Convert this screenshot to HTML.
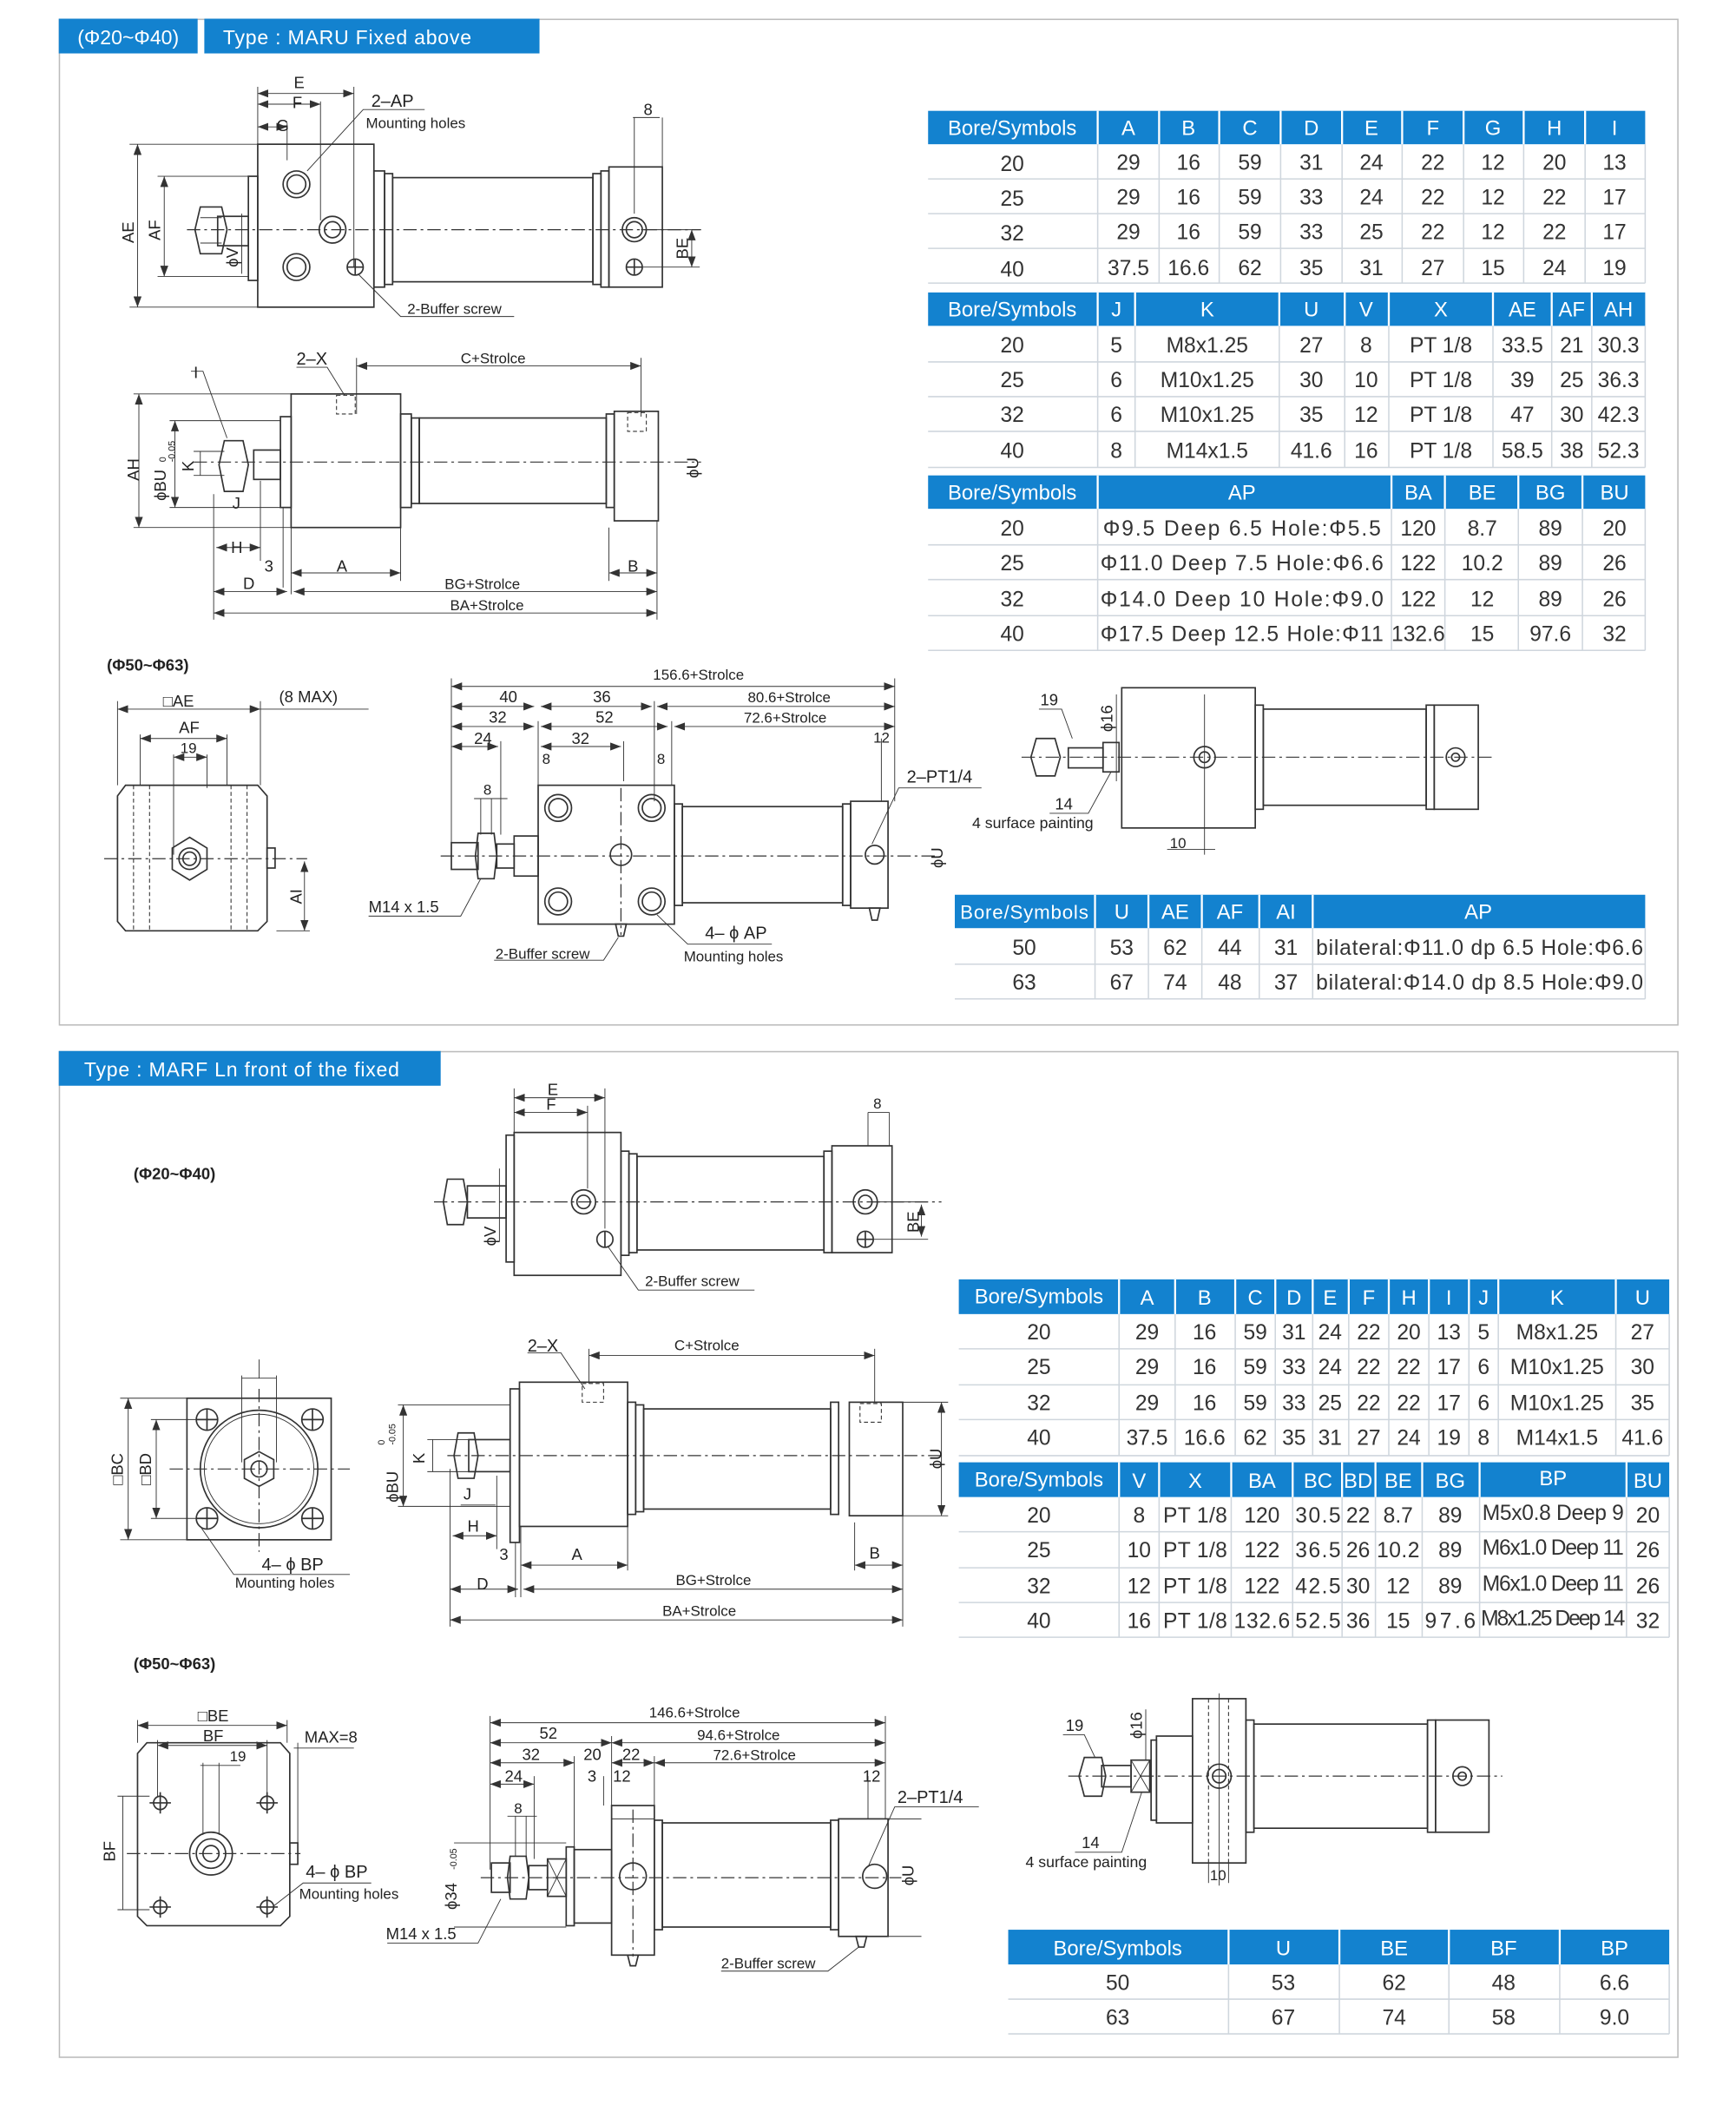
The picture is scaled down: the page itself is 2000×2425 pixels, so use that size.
<!DOCTYPE html>
<html><head><meta charset="utf-8"><style>
html,body{margin:0;padding:0;background:#fff;}
svg{display:block;}
text{font-family:"Liberation Sans",sans-serif;}
.d line,.d rect,.d circle,.d path,.d polyline,.d polygon{fill:none;stroke:#333;stroke-width:1.1;}
.d .th{stroke-width:0.6;}
.d .cl{stroke-dasharray:10 3 2 3;stroke-width:0.8;}
.d .dh{stroke-dasharray:3 2;stroke-width:0.7;}
.lb{font-size:12px;fill:#222;}
.ls{font-size:11px;fill:#222;}
.th1{font-size:15.5px;fill:#fff;}
.td{font-size:16px;fill:#333;}
</style></head><body>
<svg width="2000" height="2425" viewBox="0 0 1300 1576.25" xmlns="http://www.w3.org/2000/svg">
<defs>
<marker id="a" markerWidth="8" markerHeight="6" refX="8" refY="3" orient="auto-start-reverse" markerUnits="userSpaceOnUse"><path d="M0,0 L8,3 L0,6 z" fill="#333" stroke="none"/></marker>
</defs>
<rect width="1300" height="1577" fill="#fff"/>
<!-- frames -->
<rect x="44.5" y="14.5" width="1212" height="753" fill="none" stroke="#bbb" stroke-width="1"/>
<rect x="44.5" y="787.5" width="1212" height="753" fill="none" stroke="#bbb" stroke-width="1"/>
<rect x="44" y="14" width="104" height="26" fill="#1382cf"/>
<text x="96" y="33" text-anchor="middle" style="font-size:15px;fill:#fff">(Φ20~Φ40)</text>
<rect x="153" y="14" width="251" height="26" fill="#1382cf"/>
<text x="167" y="33" style="font-size:15px;fill:#fff;letter-spacing:0.5px">Type : MARU  Fixed above</text>
<rect x="44" y="787" width="286" height="26" fill="#1382cf"/>
<text x="63" y="806" style="font-size:15px;fill:#fff;letter-spacing:0.5px">Type : MARF Ln front of the fixed</text>

<!-- ===== TABLES ===== -->
<g id="tables">
<!-- T1 -->
<rect x="695" y="83" width="537" height="25" fill="#1382cf"/>
<g stroke="#cfd6dd" stroke-width="1">
<line x1="695" y1="134" x2="1232" y2="134"/><line x1="695" y1="160" x2="1232" y2="160"/><line x1="695" y1="186" x2="1232" y2="186"/><line x1="695" y1="212" x2="1232" y2="212"/>
<line x1="822" y1="108" x2="822" y2="212"/><line x1="868" y1="108" x2="868" y2="212"/><line x1="913" y1="108" x2="913" y2="212"/><line x1="959" y1="108" x2="959" y2="212"/><line x1="1005" y1="108" x2="1005" y2="212"/><line x1="1050" y1="108" x2="1050" y2="212"/><line x1="1096" y1="108" x2="1096" y2="212"/><line x1="1141" y1="108" x2="1141" y2="212"/><line x1="1187" y1="108" x2="1187" y2="212"/><line x1="1232" y1="108" x2="1232" y2="212"/>
</g>
<g stroke="#fff" stroke-width="1.5"><line x1="822" y1="83" x2="822" y2="108"/><line x1="868" y1="83" x2="868" y2="108"/><line x1="913" y1="83" x2="913" y2="108"/><line x1="959" y1="83" x2="959" y2="108"/><line x1="1005" y1="83" x2="1005" y2="108"/><line x1="1050" y1="83" x2="1050" y2="108"/><line x1="1096" y1="83" x2="1096" y2="108"/><line x1="1141" y1="83" x2="1141" y2="108"/><line x1="1187" y1="83" x2="1187" y2="108"/></g>
<g class="th1" text-anchor="middle"><text x="758" y="101">Bore/Symbols</text><text x="845" y="101">A</text><text x="890" y="101">B</text><text x="936" y="101">C</text><text x="982" y="101">D</text><text x="1027" y="101">E</text><text x="1073" y="101">F</text><text x="1118" y="101">G</text><text x="1164" y="101">H</text><text x="1209" y="101">I</text></g>
<g class="td" text-anchor="middle">
<text x="758" y="128">20</text><text x="845" y="127">29</text><text x="890" y="127">16</text><text x="936" y="127">59</text><text x="982" y="127">31</text><text x="1027" y="127">24</text><text x="1073" y="127">22</text><text x="1118" y="127">12</text><text x="1164" y="127">20</text><text x="1209" y="127">13</text>
<text x="758" y="154">25</text><text x="845" y="153">29</text><text x="890" y="153">16</text><text x="936" y="153">59</text><text x="982" y="153">33</text><text x="1027" y="153">24</text><text x="1073" y="153">22</text><text x="1118" y="153">12</text><text x="1164" y="153">22</text><text x="1209" y="153">17</text>
<text x="758" y="180">32</text><text x="845" y="179">29</text><text x="890" y="179">16</text><text x="936" y="179">59</text><text x="982" y="179">33</text><text x="1027" y="179">25</text><text x="1073" y="179">22</text><text x="1118" y="179">12</text><text x="1164" y="179">22</text><text x="1209" y="179">17</text>
<text x="758" y="207">40</text><text x="845" y="206">37.5</text><text x="890" y="206">16.6</text><text x="936" y="206">62</text><text x="982" y="206">35</text><text x="1027" y="206">31</text><text x="1073" y="206">27</text><text x="1118" y="206">15</text><text x="1164" y="206">24</text><text x="1209" y="206">19</text>
</g>
<!-- T2 -->
<rect x="695" y="219" width="537" height="25" fill="#1382cf"/>
<g stroke="#cfd6dd" stroke-width="1">
<line x1="695" y1="271" x2="1232" y2="271"/><line x1="695" y1="297" x2="1232" y2="297"/><line x1="695" y1="323" x2="1232" y2="323"/><line x1="695" y1="350" x2="1232" y2="350"/>
<line x1="822" y1="244" x2="822" y2="350"/><line x1="850" y1="244" x2="850" y2="350"/><line x1="958" y1="244" x2="958" y2="350"/><line x1="1007" y1="244" x2="1007" y2="350"/><line x1="1040" y1="244" x2="1040" y2="350"/><line x1="1118" y1="244" x2="1118" y2="350"/><line x1="1162" y1="244" x2="1162" y2="350"/><line x1="1192" y1="244" x2="1192" y2="350"/><line x1="1232" y1="244" x2="1232" y2="350"/>
</g>
<g stroke="#fff" stroke-width="1.5"><line x1="822" y1="219" x2="822" y2="244"/><line x1="850" y1="219" x2="850" y2="244"/><line x1="958" y1="219" x2="958" y2="244"/><line x1="1007" y1="219" x2="1007" y2="244"/><line x1="1040" y1="219" x2="1040" y2="244"/><line x1="1118" y1="219" x2="1118" y2="244"/><line x1="1162" y1="219" x2="1162" y2="244"/><line x1="1192" y1="219" x2="1192" y2="244"/></g>
<g class="th1" text-anchor="middle"><text x="758" y="237">Bore/Symbols</text><text x="836" y="237">J</text><text x="904" y="237">K</text><text x="982" y="237">U</text><text x="1023" y="237">V</text><text x="1079" y="237">X</text><text x="1140" y="237">AE</text><text x="1177" y="237">AF</text><text x="1212" y="237">AH</text></g>
<g class="td" text-anchor="middle">
<text x="758" y="264">20</text><text x="836" y="264">5</text><text x="904" y="264">M8x1.25</text><text x="982" y="264">27</text><text x="1023" y="264">8</text><text x="1079" y="264">PT 1/8</text><text x="1140" y="264">33.5</text><text x="1177" y="264">21</text><text x="1212" y="264">30.3</text>
<text x="758" y="290">25</text><text x="836" y="290">6</text><text x="904" y="290">M10x1.25</text><text x="982" y="290">30</text><text x="1023" y="290">10</text><text x="1079" y="290">PT 1/8</text><text x="1140" y="290">39</text><text x="1177" y="290">25</text><text x="1212" y="290">36.3</text>
<text x="758" y="316">32</text><text x="836" y="316">6</text><text x="904" y="316">M10x1.25</text><text x="982" y="316">35</text><text x="1023" y="316">12</text><text x="1079" y="316">PT 1/8</text><text x="1140" y="316">47</text><text x="1177" y="316">30</text><text x="1212" y="316">42.3</text>
<text x="758" y="343">40</text><text x="836" y="343">8</text><text x="904" y="343">M14x1.5</text><text x="982" y="343">41.6</text><text x="1023" y="343">16</text><text x="1079" y="343">PT 1/8</text><text x="1140" y="343">58.5</text><text x="1177" y="343">38</text><text x="1212" y="343">52.3</text>
</g>
<!-- T3 -->
<rect x="695" y="356" width="537" height="25" fill="#1382cf"/>
<g stroke="#cfd6dd" stroke-width="1">
<line x1="695" y1="408" x2="1232" y2="408"/><line x1="695" y1="434" x2="1232" y2="434"/><line x1="695" y1="461" x2="1232" y2="461"/><line x1="695" y1="487" x2="1232" y2="487"/>
<line x1="822" y1="381" x2="822" y2="487"/><line x1="1042" y1="381" x2="1042" y2="487"/><line x1="1082" y1="381" x2="1082" y2="487"/><line x1="1137" y1="381" x2="1137" y2="487"/><line x1="1185" y1="381" x2="1185" y2="487"/><line x1="1232" y1="381" x2="1232" y2="487"/>
</g>
<g stroke="#fff" stroke-width="1.5"><line x1="822" y1="356" x2="822" y2="381"/><line x1="1042" y1="356" x2="1042" y2="381"/><line x1="1082" y1="356" x2="1082" y2="381"/><line x1="1137" y1="356" x2="1137" y2="381"/><line x1="1185" y1="356" x2="1185" y2="381"/></g>
<g class="th1" text-anchor="middle"><text x="758" y="374">Bore/Symbols</text><text x="930" y="374">AP</text><text x="1062" y="374">BA</text><text x="1110" y="374">BE</text><text x="1161" y="374">BG</text><text x="1209" y="374">BU</text></g>
<g class="td" text-anchor="middle">
<text x="758" y="401">20</text><text x="930" y="401" textLength="208">Φ9.5 Deep 6.5 Hole:Φ5.5</text><text x="1062" y="401">120</text><text x="1110" y="401">8.7</text><text x="1161" y="401">89</text><text x="1209" y="401">20</text>
<text x="758" y="427">25</text><text x="930" y="427" textLength="212">Φ11.0 Deep 7.5 Hole:Φ6.6</text><text x="1062" y="427">122</text><text x="1110" y="427">10.2</text><text x="1161" y="427">89</text><text x="1209" y="427">26</text>
<text x="758" y="454">32</text><text x="930" y="454" textLength="212">Φ14.0 Deep 10 Hole:Φ9.0</text><text x="1062" y="454">122</text><text x="1110" y="454">12</text><text x="1161" y="454">89</text><text x="1209" y="454">26</text>
<text x="758" y="480">40</text><text x="930" y="480" textLength="212">Φ17.5 Deep 12.5 Hole:Φ11</text><text x="1062" y="480">132.6</text><text x="1110" y="480">15</text><text x="1161" y="480">97.6</text><text x="1209" y="480">32</text>
</g>
<!-- T4 -->
<rect x="715" y="670" width="517" height="25" fill="#1382cf"/>
<g stroke="#cfd6dd" stroke-width="1">
<line x1="715" y1="722" x2="1232" y2="722"/><line x1="715" y1="748" x2="1232" y2="748"/>
<line x1="820" y1="695" x2="820" y2="748"/><line x1="860" y1="695" x2="860" y2="748"/><line x1="900" y1="695" x2="900" y2="748"/><line x1="943" y1="695" x2="943" y2="748"/><line x1="983" y1="695" x2="983" y2="748"/><line x1="1232" y1="695" x2="1232" y2="748"/>
</g>
<g stroke="#fff" stroke-width="1.5"><line x1="820" y1="670" x2="820" y2="695"/><line x1="860" y1="670" x2="860" y2="695"/><line x1="900" y1="670" x2="900" y2="695"/><line x1="943" y1="670" x2="943" y2="695"/><line x1="983" y1="670" x2="983" y2="695"/></g>
<g class="th1" text-anchor="middle"><text x="767" y="688" textLength="96" style="font-size:14.5px">Bore/Symbols</text><text x="840" y="688">U</text><text x="880" y="688">AE</text><text x="921" y="688">AF</text><text x="963" y="688">AI</text><text x="1107" y="688">AP</text></g>
<g class="td" text-anchor="middle">
<text x="767" y="715">50</text><text x="840" y="715">53</text><text x="880" y="715">62</text><text x="921" y="715">44</text><text x="963" y="715">31</text><text x="1108" y="715" textLength="245">bilateral:Φ11.0 dp 6.5 Hole:Φ6.6</text>
<text x="767" y="741">63</text><text x="840" y="741">67</text><text x="880" y="741">74</text><text x="921" y="741">48</text><text x="963" y="741">37</text><text x="1108" y="741" textLength="245">bilateral:Φ14.0 dp 8.5 Hole:Φ9.0</text>
</g>
<!-- T5 -->
<rect x="718" y="958" width="532" height="26" fill="#1382cf"/>
<g stroke="#cfd6dd" stroke-width="1">
<line x1="718" y1="1010" x2="1250" y2="1010"/><line x1="718" y1="1037" x2="1250" y2="1037"/><line x1="718" y1="1063" x2="1250" y2="1063"/><line x1="718" y1="1090" x2="1250" y2="1090"/>
<line x1="838" y1="984" x2="838" y2="1090"/><line x1="880" y1="984" x2="880" y2="1090"/><line x1="925" y1="984" x2="925" y2="1090"/><line x1="955" y1="984" x2="955" y2="1090"/><line x1="983" y1="984" x2="983" y2="1090"/><line x1="1010" y1="984" x2="1010" y2="1090"/><line x1="1040" y1="984" x2="1040" y2="1090"/><line x1="1070" y1="984" x2="1070" y2="1090"/><line x1="1100" y1="984" x2="1100" y2="1090"/><line x1="1122" y1="984" x2="1122" y2="1090"/><line x1="1210" y1="984" x2="1210" y2="1090"/><line x1="1250" y1="984" x2="1250" y2="1090"/>
</g>
<g stroke="#fff" stroke-width="1.5"><line x1="838" y1="958" x2="838" y2="984"/><line x1="880" y1="958" x2="880" y2="984"/><line x1="925" y1="958" x2="925" y2="984"/><line x1="955" y1="958" x2="955" y2="984"/><line x1="983" y1="958" x2="983" y2="984"/><line x1="1010" y1="958" x2="1010" y2="984"/><line x1="1040" y1="958" x2="1040" y2="984"/><line x1="1070" y1="958" x2="1070" y2="984"/><line x1="1100" y1="958" x2="1100" y2="984"/><line x1="1122" y1="958" x2="1122" y2="984"/><line x1="1210" y1="958" x2="1210" y2="984"/></g>
<g class="th1" text-anchor="middle"><text x="778" y="976">Bore/Symbols</text><text x="859" y="977">A</text><text x="902" y="977">B</text><text x="940" y="977">C</text><text x="969" y="977">D</text><text x="996" y="977">E</text><text x="1025" y="977">F</text><text x="1055" y="977">H</text><text x="1085" y="977">I</text><text x="1111" y="977">J</text><text x="1166" y="977">K</text><text x="1230" y="977">U</text></g>
<g class="td" text-anchor="middle">
<text x="778" y="1003">20</text><text x="859" y="1003">29</text><text x="902" y="1003">16</text><text x="940" y="1003">59</text><text x="969" y="1003">31</text><text x="996" y="1003">24</text><text x="1025" y="1003">22</text><text x="1055" y="1003">20</text><text x="1085" y="1003">13</text><text x="1111" y="1003">5</text><text x="1166" y="1003">M8x1.25</text><text x="1230" y="1003">27</text>
<text x="778" y="1029">25</text><text x="859" y="1029">29</text><text x="902" y="1029">16</text><text x="940" y="1029">59</text><text x="969" y="1029">33</text><text x="996" y="1029">24</text><text x="1025" y="1029">22</text><text x="1055" y="1029">22</text><text x="1085" y="1029">17</text><text x="1111" y="1029">6</text><text x="1166" y="1029">M10x1.25</text><text x="1230" y="1029">30</text>
<text x="778" y="1056">32</text><text x="859" y="1056">29</text><text x="902" y="1056">16</text><text x="940" y="1056">59</text><text x="969" y="1056">33</text><text x="996" y="1056">25</text><text x="1025" y="1056">22</text><text x="1055" y="1056">22</text><text x="1085" y="1056">17</text><text x="1111" y="1056">6</text><text x="1166" y="1056">M10x1.25</text><text x="1230" y="1056">35</text>
<text x="778" y="1082">40</text><text x="859" y="1082">37.5</text><text x="902" y="1082">16.6</text><text x="940" y="1082">62</text><text x="969" y="1082">35</text><text x="996" y="1082">31</text><text x="1025" y="1082">27</text><text x="1055" y="1082">24</text><text x="1085" y="1082">19</text><text x="1111" y="1082">8</text><text x="1166" y="1082">M14x1.5</text><text x="1230" y="1082">41.6</text>
</g>
<!-- T6 -->
<rect x="718" y="1095" width="532" height="26" fill="#1382cf"/>
<g stroke="#cfd6dd" stroke-width="1">
<line x1="718" y1="1147" x2="1250" y2="1147"/><line x1="718" y1="1174" x2="1250" y2="1174"/><line x1="718" y1="1200" x2="1250" y2="1200"/><line x1="718" y1="1226" x2="1250" y2="1226"/>
<line x1="838" y1="1121" x2="838" y2="1226"/><line x1="868" y1="1121" x2="868" y2="1226"/><line x1="922" y1="1121" x2="922" y2="1226"/><line x1="968" y1="1121" x2="968" y2="1226"/><line x1="1005" y1="1121" x2="1005" y2="1226"/><line x1="1030" y1="1121" x2="1030" y2="1226"/><line x1="1065" y1="1121" x2="1065" y2="1226"/><line x1="1108" y1="1121" x2="1108" y2="1226"/><line x1="1218" y1="1121" x2="1218" y2="1226"/><line x1="1250" y1="1121" x2="1250" y2="1226"/>
</g>
<g stroke="#fff" stroke-width="1.5"><line x1="838" y1="1095" x2="838" y2="1121"/><line x1="868" y1="1095" x2="868" y2="1121"/><line x1="922" y1="1095" x2="922" y2="1121"/><line x1="968" y1="1095" x2="968" y2="1121"/><line x1="1005" y1="1095" x2="1005" y2="1121"/><line x1="1030" y1="1095" x2="1030" y2="1121"/><line x1="1065" y1="1095" x2="1065" y2="1121"/><line x1="1108" y1="1095" x2="1108" y2="1121"/><line x1="1218" y1="1095" x2="1218" y2="1121"/></g>
<g class="th1" text-anchor="middle"><text x="778" y="1113">Bore/Symbols</text><text x="853" y="1114">V</text><text x="895" y="1114">X</text><text x="945" y="1114">BA</text><text x="987" y="1114">BC</text><text x="1017" y="1114">BD</text><text x="1047" y="1114">BE</text><text x="1086" y="1114">BG</text><text x="1163" y="1112">BP</text><text x="1234" y="1114">BU</text></g>
<g class="td" text-anchor="middle">
<text x="778" y="1140">20</text><text x="853" y="1140">8</text><text x="895" y="1140" textLength="48">PT 1/8</text><text x="945" y="1140">120</text><text x="987" y="1140" textLength="34">30.5</text><text x="1017" y="1140">22</text><text x="1047" y="1140">8.7</text><text x="1086" y="1140">89</text><text x="1163" y="1138" textLength="106">M5x0.8 Deep 9</text><text x="1234" y="1140">20</text>
<text x="778" y="1166">25</text><text x="853" y="1166">10</text><text x="895" y="1166" textLength="48">PT 1/8</text><text x="945" y="1166">122</text><text x="987" y="1166" textLength="34">36.5</text><text x="1017" y="1166">26</text><text x="1047" y="1166" textLength="32">10.2</text><text x="1086" y="1166">89</text><text x="1163" y="1164" textLength="106">M6x1.0 Deep 11</text><text x="1234" y="1166">26</text>
<text x="778" y="1193">32</text><text x="853" y="1193">12</text><text x="895" y="1193" textLength="48">PT 1/8</text><text x="945" y="1193">122</text><text x="987" y="1193" textLength="34">42.5</text><text x="1017" y="1193">30</text><text x="1047" y="1193">12</text><text x="1086" y="1193">89</text><text x="1163" y="1191" textLength="106">M6x1.0 Deep 11</text><text x="1234" y="1193">26</text>
<text x="778" y="1219">40</text><text x="853" y="1219">16</text><text x="895" y="1219" textLength="48">PT 1/8</text><text x="945" y="1219" textLength="42">132.6</text><text x="987" y="1219" textLength="34">52.5</text><text x="1017" y="1219">36</text><text x="1047" y="1219">15</text><text x="1086" y="1219" textLength="38">97.6</text><text x="1163" y="1217" textLength="108">M8x1.25 Deep 14</text><text x="1234" y="1219">32</text>
</g>
<!-- T7 -->
<rect x="755" y="1445" width="495" height="26" fill="#1382cf"/>
<g stroke="#cfd6dd" stroke-width="1">
<line x1="755" y1="1497" x2="1250" y2="1497"/><line x1="755" y1="1523" x2="1250" y2="1523"/>
<line x1="920" y1="1471" x2="920" y2="1523"/><line x1="1003" y1="1471" x2="1003" y2="1523"/><line x1="1085" y1="1471" x2="1085" y2="1523"/><line x1="1168" y1="1471" x2="1168" y2="1523"/><line x1="1250" y1="1471" x2="1250" y2="1523"/>
</g>
<g stroke="#fff" stroke-width="1.5"><line x1="920" y1="1445" x2="920" y2="1471"/><line x1="1003" y1="1445" x2="1003" y2="1471"/><line x1="1085" y1="1445" x2="1085" y2="1471"/><line x1="1168" y1="1445" x2="1168" y2="1471"/></g>
<g class="th1" text-anchor="middle"><text x="837" y="1464">Bore/Symbols</text><text x="961" y="1464">U</text><text x="1044" y="1464">BE</text><text x="1126" y="1464">BF</text><text x="1209" y="1464">BP</text></g>
<g class="td" text-anchor="middle">
<text x="837" y="1490">50</text><text x="961" y="1490">53</text><text x="1044" y="1490">62</text><text x="1126" y="1490">48</text><text x="1209" y="1490">6.6</text>
<text x="837" y="1516">63</text><text x="961" y="1516">67</text><text x="1044" y="1516">74</text><text x="1126" y="1516">58</text><text x="1209" y="1516">9.0</text>
</g>
</g>

<!-- ===== DRAWINGS ===== -->
<g class="d">
<!-- A: top view MARU 20-40 -->
<rect x="193" y="108" width="87" height="122"/>
<rect x="186" y="132" width="7" height="78"/>
<rect x="163" y="162" width="23" height="22"/>
<polygon points="150,155 166,155 170,172 166,190 150,190 146,172"/>
<line x1="150" y1="163" x2="166" y2="163" class="th"/><line x1="150" y1="182" x2="166" y2="182" class="th"/>
<rect x="280" y="128" width="8" height="87"/><rect x="288" y="130" width="6" height="83"/>
<rect x="294" y="133" width="150" height="78"/>
<rect x="444" y="130" width="6" height="83"/><rect x="450" y="128" width="6" height="87"/>
<rect x="456" y="125" width="40" height="90"/>
<line x1="496" y1="88" x2="496" y2="125" class="th"/><line x1="475" y1="88" x2="475" y2="160" class="th"/>
<circle cx="222" cy="138" r="10"/><circle cx="222" cy="138" r="7"/>
<circle cx="222" cy="200" r="10"/><circle cx="222" cy="200" r="7"/>
<circle cx="249" cy="172" r="10"/><circle cx="249" cy="172" r="6"/>
<circle cx="266" cy="200" r="6"/><line x1="260" y1="200" x2="272" y2="200"/><line x1="266" y1="194" x2="266" y2="206"/>
<circle cx="475" cy="172" r="9"/><circle cx="475" cy="172" r="6"/>
<circle cx="475" cy="200" r="6"/><line x1="469" y1="200" x2="481" y2="200"/><line x1="475" y1="194" x2="475" y2="206"/>
<line x1="140" y1="172" x2="525" y2="172" class="cl"/>
<line x1="193" y1="65" x2="193" y2="108" class="th"/><line x1="265" y1="65" x2="265" y2="200" class="th"/><line x1="240" y1="76" x2="240" y2="165" class="th"/><line x1="215" y1="92" x2="215" y2="120" class="th"/>
<line x1="193" y1="70" x2="265" y2="70" class="th" marker-start="url(#a)" marker-end="url(#a)"/>
<line x1="193" y1="78" x2="240" y2="78" class="th" marker-start="url(#a)" marker-end="url(#a)"/>
<line x1="193" y1="95" x2="215" y2="95" class="th" marker-start="url(#a)" marker-end="url(#a)"/>
<line x1="97" y1="108" x2="193" y2="108" class="th"/><line x1="97" y1="230" x2="193" y2="230" class="th"/>
<line x1="103" y1="108" x2="103" y2="230" class="th" marker-start="url(#a)" marker-end="url(#a)"/>
<line x1="118" y1="132" x2="186" y2="132" class="th"/><line x1="118" y1="207" x2="186" y2="207" class="th"/>
<line x1="123" y1="132" x2="123" y2="207" class="th" marker-start="url(#a)" marker-end="url(#a)"/>
<line x1="181" y1="160" x2="181" y2="205" class="th"/>
<line x1="480" y1="172" x2="524" y2="172" class="th"/><line x1="480" y1="200" x2="524" y2="200" class="th"/>
<line x1="518" y1="172" x2="518" y2="200" class="th" marker-start="url(#a)" marker-end="url(#a)"/>
<line x1="474" y1="88" x2="494" y2="88" class="th"/>
<polyline points="230,128 272,82 318,82" class="th"/>
<polyline points="268,205 300,237 385,237" class="th"/>
</g>
<g class="lb">
<text x="220" y="66">E</text><text x="219" y="81">F</text><text x="207" y="98">G</text>
<text x="278" y="80" style="font-size:13px">2–AP</text><text x="274" y="96" class="ls">Mounting holes</text>
<text x="482" y="86">8</text>
<text x="305" y="235" class="ls">2-Buffer screw</text>
<text transform="translate(100,182) rotate(-90)">AE</text>
<text transform="translate(120,180) rotate(-90)">AF</text>
<text transform="translate(178,200) rotate(-90)">ϕV</text>
<text transform="translate(515,194) rotate(-90)">BE</text>
</g>

<!-- B: side view MARU 20-40 -->
<g class="d">
<rect x="218" y="295" width="82" height="100"/>
<rect x="210" y="312" width="8" height="68"/>
<rect x="190" y="337" width="20" height="22"/>
<polygon points="168,330 182,330 186,348 182,368 168,368 164,348"/>
<rect x="300" y="310" width="8" height="70"/><rect x="308" y="313" width="6" height="64"/>
<rect x="314" y="313" width="140" height="64"/>
<rect x="454" y="310" width="6" height="70"/>
<rect x="460" y="308" width="33" height="82"/>
<rect x="252" y="296" width="14" height="14" class="dh"/><rect x="470" y="309" width="14" height="14" class="dh"/>
<line x1="145" y1="346" x2="525" y2="346" class="cl"/>
<line x1="267" y1="268" x2="267" y2="310" class="th"/><line x1="480" y1="268" x2="480" y2="312" class="th"/>
<line x1="267" y1="274" x2="480" y2="274" class="th" marker-start="url(#a)" marker-end="url(#a)"/>
<polyline points="222,275 245,275 258,296" class="th"/>
<line x1="100" y1="295" x2="218" y2="295" class="th"/><line x1="100" y1="395" x2="218" y2="395" class="th"/>
<line x1="104" y1="295" x2="104" y2="395" class="th" marker-start="url(#a)" marker-end="url(#a)"/>
<line x1="127" y1="315" x2="210" y2="315" class="th"/><line x1="127" y1="380" x2="210" y2="380" class="th"/>
<line x1="131" y1="315" x2="131" y2="380" class="th" marker-start="url(#a)" marker-end="url(#a)"/>
<line x1="145" y1="338" x2="168" y2="338" class="th"/><line x1="145" y1="356" x2="168" y2="356" class="th"/>
<line x1="150" y1="338" x2="150" y2="356" class="th"/>
<polyline points="143,278 152,278 170,328" class="th"/>
<line x1="160" y1="370" x2="160" y2="464" class="th"/><line x1="195" y1="360" x2="195" y2="420" class="th"/><line x1="212" y1="380" x2="212" y2="440" class="th"/><line x1="218" y1="395" x2="218" y2="445" class="th"/>
<line x1="300" y1="395" x2="300" y2="435" class="th"/><line x1="456" y1="395" x2="456" y2="435" class="th"/><line x1="492" y1="390" x2="492" y2="464" class="th"/>
<line x1="162" y1="410" x2="195" y2="410" class="th" marker-start="url(#a)" marker-end="url(#a)"/>
<line x1="218" y1="429" x2="300" y2="429" class="th" marker-start="url(#a)" marker-end="url(#a)"/>
<line x1="456" y1="429" x2="492" y2="429" class="th" marker-start="url(#a)" marker-end="url(#a)"/>
<line x1="160" y1="443" x2="215" y2="443" class="th" marker-start="url(#a)" marker-end="url(#a)"/>
<line x1="220" y1="443" x2="492" y2="443" class="th" marker-start="url(#a)" marker-end="url(#a)"/>
<line x1="160" y1="459" x2="492" y2="459" class="th" marker-start="url(#a)" marker-end="url(#a)"/>
</g>
<g class="lb">
<text x="222" y="273" style="font-size:13px">2–X</text><text x="345" y="272" class="ls">C+Strolce</text>
<text x="145" y="283">I</text>
<text x="173" y="414">H</text><text x="198" y="428">3</text><text x="252" y="428">A</text><text x="470" y="428">B</text>
<text x="182" y="441">D</text><text x="333" y="441" class="ls">BG+Strolce</text><text x="337" y="457" class="ls">BA+Strolce</text>
<text x="174" y="381">J</text>
<text transform="translate(104,360) rotate(-90)">AH</text>
<text transform="translate(124,375) rotate(-90)">ϕBU</text>
<text transform="translate(124,346) rotate(-90)" style="font-size:7px">0</text>
<text transform="translate(131,346) rotate(-90)" style="font-size:7px">-0.05</text>
<text transform="translate(145,353) rotate(-90)">K</text>
<text transform="translate(523,358) rotate(-90)">ϕU</text>
</g>

<!-- C: end view 50-63 -->
<text x="80" y="502" style="font-size:12px;font-weight:bold;fill:#222">(Φ50~Φ63)</text>
<g class="d">
<path d="M94,588 L193,588 L200,596 L200,690 L193,697 L94,697 L88,690 L88,596 Z"/>
<line x1="100" y1="588" x2="100" y2="697" class="dh"/><line x1="112" y1="588" x2="112" y2="697" class="dh"/>
<line x1="173" y1="588" x2="173" y2="697" class="dh"/><line x1="185" y1="588" x2="185" y2="697" class="dh"/>
<polygon points="142,627 155,635 155,651 142,659 129,651 129,635"/><circle cx="142" cy="643" r="8"/><circle cx="142" cy="643" r="5"/>
<rect x="200" y="635" width="6" height="15"/>
<line x1="78" y1="643" x2="230" y2="643" class="cl"/>
<line x1="88" y1="525" x2="88" y2="588" class="th"/><line x1="195" y1="525" x2="195" y2="588" class="th"/>
<line x1="88" y1="531" x2="195" y2="531" class="th" marker-start="url(#a)" marker-end="url(#a)"/>
<line x1="195" y1="531" x2="276" y2="531" class="th"/>
<line x1="105" y1="550" x2="105" y2="588" class="th"/><line x1="170" y1="550" x2="170" y2="588" class="th"/>
<line x1="105" y1="553" x2="170" y2="553" class="th" marker-start="url(#a)" marker-end="url(#a)"/>
<line x1="130" y1="565" x2="130" y2="640" class="th"/><line x1="155" y1="565" x2="155" y2="590" class="th"/>
<line x1="130" y1="567" x2="155" y2="567" class="th" marker-start="url(#a)" marker-end="url(#a)"/>
<line x1="207" y1="697" x2="232" y2="697" class="th"/><line x1="228" y1="645" x2="228" y2="697" class="th" marker-start="url(#a)" marker-end="url(#a)"/>
</g>
<g class="lb"><text x="122" y="529">□AE</text><text x="209" y="526">(8 MAX)</text><text x="134" y="549">AF</text><text x="135" y="564" class="ls">19</text>
<text transform="translate(226,677) rotate(-90)">AI</text></g>

<!-- D: side 50-63 -->
<g class="d">
<rect x="403" y="588" width="102" height="104"/>
<circle cx="418" cy="605" r="10"/><circle cx="418" cy="605" r="7"/>
<circle cx="488" cy="605" r="10"/><circle cx="488" cy="605" r="7"/>
<circle cx="418" cy="675" r="10"/><circle cx="418" cy="675" r="7"/>
<circle cx="488" cy="675" r="10"/><circle cx="488" cy="675" r="7"/>
<circle cx="465" cy="640" r="8"/>
<line x1="465" y1="590" x2="465" y2="700" class="cl"/>
<rect x="505" y="602" width="6" height="76"/><rect x="511" y="604" width="120" height="72"/>
<rect x="631" y="602" width="6" height="76"/>
<rect x="637" y="600" width="28" height="80"/>
<circle cx="655" cy="640" r="7"/>
<rect x="385" y="626" width="18" height="30"/>
<rect x="338" y="631" width="20" height="20"/>
<polygon points="358,624 370,624 372,641 370,658 358,658 356,641"/>
<rect x="372" y="632" width="13" height="18"/>
<path d="M461,692 L469,692 L467,701 L463,701 Z"/><path d="M651,680 L659,680 L657,689 L653,689 Z"/>
<line x1="330" y1="641" x2="700" y2="641" class="cl"/>
<line x1="338" y1="508" x2="338" y2="640" class="th"/><line x1="670" y1="508" x2="670" y2="600" class="th"/>
<line x1="403" y1="540" x2="403" y2="588" class="th"/><line x1="490" y1="525" x2="490" y2="600" class="th"/><line x1="503" y1="540" x2="503" y2="588" class="th"/><line x1="375" y1="555" x2="375" y2="625" class="th"/><line x1="467" y1="555" x2="467" y2="585" class="th"/><line x1="660" y1="553" x2="660" y2="600" class="th"/>
<line x1="338" y1="514" x2="670" y2="514" class="th" marker-start="url(#a)" marker-end="url(#a)"/>
<line x1="338" y1="529" x2="400" y2="529" class="th" marker-start="url(#a)" marker-end="url(#a)"/>
<line x1="405" y1="529" x2="488" y2="529" class="th" marker-start="url(#a)" marker-end="url(#a)"/>
<line x1="492" y1="529" x2="670" y2="529" class="th" marker-start="url(#a)" marker-end="url(#a)"/>
<line x1="338" y1="544" x2="400" y2="544" class="th" marker-start="url(#a)" marker-end="url(#a)"/>
<line x1="405" y1="544" x2="500" y2="544" class="th" marker-start="url(#a)" marker-end="url(#a)"/>
<line x1="505" y1="544" x2="670" y2="544" class="th" marker-start="url(#a)" marker-end="url(#a)"/>
<line x1="338" y1="559" x2="373" y2="559" class="th" marker-start="url(#a)" marker-end="url(#a)"/>
<line x1="405" y1="559" x2="465" y2="559" class="th" marker-start="url(#a)" marker-end="url(#a)"/>
<line x1="355" y1="598" x2="380" y2="598" class="th"/><line x1="360" y1="598" x2="360" y2="625" class="th"/><line x1="368" y1="598" x2="368" y2="625" class="th"/>
<polyline points="276,686 345,686 360,658" class="th"/>
<polyline points="370,719 452,719 463,702" class="th"/>
<polyline points="492,685 515,707 578,707" class="th"/>
<polyline points="653,632 673,590 735,590" class="th"/>
</g>
<g class="lb">
<text x="489" y="509" class="ls">156.6+Strolce</text>
<text x="374" y="526">40</text><text x="444" y="526">36</text><text x="560" y="526" class="ls">80.6+Strolce</text>
<text x="366" y="541">32</text><text x="446" y="541">52</text><text x="557" y="541" class="ls">72.6+Strolce</text>
<text x="355" y="557">24</text><text x="428" y="557">32</text>
<text x="406" y="572" class="ls">8</text><text x="492" y="572" class="ls">8</text><text x="654" y="556" class="ls">12</text>
<text x="362" y="595" class="ls">8</text>
<text x="276" y="683">M14 x 1.5</text>
<text x="371" y="718" class="ls">2-Buffer screw</text>
<text x="528" y="703" style="font-size:13px">4– ϕ AP</text><text x="512" y="720" class="ls">Mounting holes</text>
<text x="679" y="586" style="font-size:13px">2–PT1/4</text>
<text transform="translate(706,650) rotate(-90)">ϕU</text>
</g>

<!-- E: small right view 50-63 -->
<g class="d">
<rect x="840" y="515" width="100" height="105"/>
<rect x="940" y="528" width="6" height="78"/><rect x="946" y="531" width="122" height="72"/>
<rect x="1068" y="528" width="6" height="78"/>
<rect x="1074" y="528" width="33" height="78"/>
<circle cx="902" cy="567" r="8"/><circle cx="902" cy="567" r="4"/>
<circle cx="1090" cy="567" r="7"/><circle cx="1090" cy="567" r="3"/>
<rect x="826" y="556" width="12" height="22"/>
<rect x="800" y="560" width="26" height="15"/>
<polygon points="776,553 790,553 794,567 790,581 776,581 772,567"/>
<line x1="765" y1="567" x2="1118" y2="567" class="cl"/>
<line x1="902" y1="520" x2="902" y2="640" class="th"/>
<line x1="836" y1="520" x2="836" y2="585" class="th"/>
<polyline points="778,531 795,531 803,553" class="th"/>
<polyline points="786,609 815,609 832,578" class="th"/>
<line x1="874" y1="636" x2="910" y2="636" class="th"/>
</g>
<g class="lb"><text x="779" y="528">19</text><text x="790" y="606">14</text>
<text x="728" y="620" style="font-size:11.5px">4 surface painting</text><text x="876" y="635" class="ls">10</text>
<text transform="translate(833,548) rotate(-90)">ϕ16</text></g>

<!-- ===== BOTTOM SECTION ===== -->
<text x="100" y="883" style="font-size:12px;font-weight:bold;fill:#222">(Φ20~Φ40)</text>
<!-- F: top view MARF -->
<g class="d">
<rect x="379" y="850" width="6" height="95"/>
<rect x="385" y="848" width="80" height="107"/>
<rect x="465" y="862" width="6" height="78"/><rect x="471" y="864" width="6" height="74"/>
<rect x="477" y="866" width="140" height="70"/>
<rect x="617" y="862" width="6" height="76"/>
<rect x="623" y="858" width="45" height="80"/>
<rect x="350" y="888" width="29" height="24"/>
<polygon points="335,883 347,883 350,900 347,917 335,917 332,900"/>
<circle cx="437" cy="900" r="9"/><circle cx="437" cy="900" r="5"/>
<circle cx="453" cy="928" r="6"/><line x1="453" y1="922" x2="453" y2="934"/>
<circle cx="648" cy="900" r="9"/><circle cx="648" cy="900" r="5"/>
<circle cx="648" cy="928" r="6"/><line x1="642" y1="928" x2="654" y2="928"/><line x1="648" y1="922" x2="648" y2="934"/>
<line x1="325" y1="900" x2="705" y2="900" class="cl"/>
<line x1="385" y1="815" x2="385" y2="848" class="th"/><line x1="453" y1="815" x2="453" y2="920" class="th"/><line x1="440" y1="828" x2="440" y2="890" class="th"/>
<line x1="385" y1="822" x2="453" y2="822" class="th" marker-start="url(#a)" marker-end="url(#a)"/>
<line x1="385" y1="833" x2="440" y2="833" class="th" marker-start="url(#a)" marker-end="url(#a)"/>
<line x1="650" y1="833" x2="650" y2="858" class="th"/><line x1="666" y1="833" x2="666" y2="858" class="th"/><line x1="650" y1="833" x2="666" y2="833" class="th"/>
<line x1="653" y1="900" x2="695" y2="900" class="th"/><line x1="653" y1="928" x2="695" y2="928" class="th"/>
<line x1="690" y1="902" x2="690" y2="926" class="th" marker-start="url(#a)" marker-end="url(#a)"/>
<line x1="374" y1="875" x2="374" y2="930" class="th"/>
<polyline points="455,933 478,966 565,966" class="th"/>
</g>
<g class="lb"><text x="410" y="820">E</text><text x="409" y="831">F</text><text x="654" y="830" class="ls">8</text>
<text x="483" y="963" class="ls">2-Buffer screw</text>
<text transform="translate(371,933) rotate(-90)">ϕV</text><text transform="translate(688,923) rotate(-90)">BE</text></g>

<!-- G: flange front -->
<g class="d">
<rect x="140" y="1047" width="108" height="106"/>
<circle cx="194" cy="1100" r="44"/><circle cx="194" cy="1100" r="41" class="th"/>
<circle cx="155" cy="1063" r="8"/><line x1="147" y1="1063" x2="163" y2="1063"/><line x1="155" y1="1055" x2="155" y2="1071"/>
<circle cx="234" cy="1063" r="8"/><line x1="226" y1="1063" x2="242" y2="1063"/><line x1="234" y1="1055" x2="234" y2="1071"/>
<circle cx="155" cy="1137" r="8"/><line x1="147" y1="1137" x2="163" y2="1137"/><line x1="155" y1="1129" x2="155" y2="1145"/>
<circle cx="234" cy="1137" r="8"/><line x1="226" y1="1137" x2="242" y2="1137"/><line x1="234" y1="1129" x2="234" y2="1145"/>
<polygon points="194,1087 205,1093 205,1107 194,1113 183,1107 183,1093"/><circle cx="194" cy="1100" r="6"/>
<line x1="127" y1="1100" x2="262" y2="1100" class="cl"/><line x1="194" y1="1040" x2="194" y2="1162" class="cl"/>
<line x1="181" y1="1030" x2="181" y2="1095" class="th"/><line x1="207" y1="1030" x2="207" y2="1095" class="th"/><line x1="181" y1="1032" x2="207" y2="1032" class="th"/><line x1="194" y1="1018" x2="194" y2="1032" class="th"/>
<line x1="90" y1="1047" x2="140" y2="1047" class="th"/><line x1="90" y1="1153" x2="140" y2="1153" class="th"/>
<line x1="96" y1="1047" x2="96" y2="1153" class="th" marker-start="url(#a)" marker-end="url(#a)"/>
<line x1="113" y1="1063" x2="147" y2="1063" class="th"/><line x1="113" y1="1137" x2="147" y2="1137" class="th"/>
<line x1="117" y1="1063" x2="117" y2="1137" class="th" marker-start="url(#a)" marker-end="url(#a)"/>
<polyline points="150,1143 175,1179 262,1179" class="th"/>
</g>
<g class="lb"><text x="196" y="1176" style="font-size:13px">4– ϕ BP</text><text x="176" y="1189" class="ls">Mounting holes</text>
<text transform="translate(92,1112) rotate(-90)">□BC</text><text transform="translate(113,1112) rotate(-90)">□BD</text></g>

<!-- H: side MARF -->
<g class="d">
<rect x="382" y="1040" width="7" height="115"/>
<rect x="389" y="1035" width="81" height="108"/>
<rect x="470" y="1050" width="6" height="84"/><rect x="476" y="1052" width="6" height="80"/>
<rect x="482" y="1055" width="140" height="75"/>
<rect x="622" y="1050" width="6" height="84"/>
<rect x="636" y="1050" width="40" height="85"/>
<rect x="351" y="1078" width="31" height="24"/>
<polygon points="343,1073 355,1073 358,1090 355,1107 343,1107 340,1090"/>
<rect x="436" y="1036" width="16" height="14" class="dh"/><rect x="644" y="1051" width="16" height="14" class="dh"/>
<line x1="335" y1="1090" x2="708" y2="1090" class="cl"/>
<line x1="441" y1="1010" x2="441" y2="1036" class="th"/><line x1="655" y1="1010" x2="655" y2="1050" class="th"/>
<line x1="441" y1="1015" x2="655" y2="1015" class="th" marker-start="url(#a)" marker-end="url(#a)"/>
<polyline points="395,1013 420,1013 438,1040" class="th"/>
<line x1="298" y1="1052" x2="382" y2="1052" class="th"/><line x1="298" y1="1128" x2="382" y2="1128" class="th"/>
<line x1="302" y1="1052" x2="302" y2="1128" class="th" marker-start="url(#a)" marker-end="url(#a)"/>
<line x1="320" y1="1078" x2="351" y2="1078" class="th"/><line x1="320" y1="1102" x2="351" y2="1102" class="th"/>
<line x1="324" y1="1078" x2="324" y2="1102" class="th"/>
<line x1="676" y1="1050" x2="710" y2="1050" class="th"/><line x1="676" y1="1135" x2="710" y2="1135" class="th"/>
<line x1="705" y1="1050" x2="705" y2="1135" class="th" marker-start="url(#a)" marker-end="url(#a)"/>
<line x1="337" y1="1100" x2="337" y2="1218" class="th"/><line x1="372" y1="1105" x2="372" y2="1160" class="th"/><line x1="386" y1="1155" x2="386" y2="1196" class="th"/><line x1="390" y1="1143" x2="390" y2="1196" class="th"/>
<line x1="470" y1="1143" x2="470" y2="1176" class="th"/><line x1="640" y1="1140" x2="640" y2="1176" class="th"/><line x1="676" y1="1135" x2="676" y2="1218" class="th"/>
<line x1="339" y1="1150" x2="372" y2="1150" class="th" marker-start="url(#a)" marker-end="url(#a)"/>
<line x1="390" y1="1172" x2="470" y2="1172" class="th" marker-start="url(#a)" marker-end="url(#a)"/>
<line x1="640" y1="1172" x2="676" y2="1172" class="th" marker-start="url(#a)" marker-end="url(#a)"/>
<line x1="337" y1="1190" x2="388" y2="1190" class="th" marker-start="url(#a)" marker-end="url(#a)"/>
<line x1="392" y1="1190" x2="676" y2="1190" class="th" marker-start="url(#a)" marker-end="url(#a)"/>
<line x1="337" y1="1213" x2="676" y2="1213" class="th" marker-start="url(#a)" marker-end="url(#a)"/>
<line x1="345" y1="1127" x2="371" y2="1127" class="th"/>
</g>
<g class="lb"><text x="395" y="1012" style="font-size:13px">2–X</text><text x="505" y="1011" class="ls">C+Strolce</text>
<text x="350" y="1147">H</text><text x="347" y="1123">J</text><text x="374" y="1168">3</text><text x="428" y="1168">A</text><text x="651" y="1167">B</text>
<text x="357" y="1190">D</text><text x="506" y="1187" class="ls">BG+Strolce</text><text x="496" y="1210" class="ls">BA+Strolce</text>
<text transform="translate(298,1125) rotate(-90)">ϕBU</text>
<text transform="translate(288,1082) rotate(-90)" style="font-size:7px">0</text><text transform="translate(296,1082) rotate(-90)" style="font-size:7px">-0.05</text>
<text transform="translate(318,1096) rotate(-90)">K</text>
<text transform="translate(705,1100) rotate(-90)">ϕU</text></g>

<!-- I: square 50-63 bottom -->
<text x="100" y="1250" style="font-size:12px;font-weight:bold;fill:#222">(Φ50~Φ63)</text>
<g class="d">
<path d="M110,1305 L210,1305 L217,1313 L217,1435 L210,1442 L110,1442 L103,1435 L103,1313 Z"/>
<circle cx="120" cy="1350" r="5"/><line x1="112" y1="1350" x2="128" y2="1350"/><line x1="120" y1="1342" x2="120" y2="1358"/>
<circle cx="200" cy="1350" r="5"/><line x1="192" y1="1350" x2="208" y2="1350"/><line x1="200" y1="1342" x2="200" y2="1358"/>
<circle cx="120" cy="1428" r="5"/><line x1="112" y1="1428" x2="128" y2="1428"/><line x1="120" y1="1420" x2="120" y2="1436"/>
<circle cx="200" cy="1428" r="5"/><line x1="192" y1="1428" x2="208" y2="1428"/><line x1="200" y1="1420" x2="200" y2="1436"/>
<circle cx="158" cy="1388" r="16"/><circle cx="158" cy="1388" r="11"/><circle cx="158" cy="1388" r="6"/>
<rect x="217" y="1380" width="6" height="16"/>
<line x1="95" y1="1388" x2="225" y2="1388" class="cl"/>
<line x1="152" y1="1320" x2="152" y2="1374" class="th"/><line x1="164" y1="1320" x2="164" y2="1374" class="th"/>
<line x1="103" y1="1288" x2="103" y2="1305" class="th"/><line x1="215" y1="1288" x2="215" y2="1305" class="th"/>
<line x1="103" y1="1292" x2="215" y2="1292" class="th" marker-start="url(#a)" marker-end="url(#a)"/>
<line x1="118" y1="1303" x2="118" y2="1345" class="th"/><line x1="200" y1="1303" x2="200" y2="1345" class="th"/>
<line x1="118" y1="1307" x2="200" y2="1307" class="th" marker-start="url(#a)" marker-end="url(#a)"/>
<line x1="150" y1="1322" x2="180" y2="1322" class="th"/>
<line x1="220" y1="1309" x2="265" y2="1309" class="th"/><line x1="223" y1="1305" x2="223" y2="1380" class="th"/>
<line x1="88" y1="1345" x2="112" y2="1345" class="th"/><line x1="88" y1="1430" x2="112" y2="1430" class="th"/>
<line x1="92" y1="1345" x2="92" y2="1430" class="th"/>
<polyline points="204,1428 227,1410 278,1410" class="th"/>
</g>
<g class="lb"><text x="148" y="1289">□BE</text><text x="152" y="1304">BF</text><text x="172" y="1319" class="ls">19</text><text x="228" y="1305">MAX=8</text>
<text x="229" y="1406" style="font-size:13px">4– ϕ BP</text><text x="224" y="1422" class="ls">Mounting holes</text>
<text transform="translate(86,1394) rotate(-90)">BF</text></g>

<!-- J: side 50-63 bottom -->
<g class="d">
<rect x="458" y="1352" width="32" height="112"/><line x1="458" y1="1362" x2="490" y2="1362" class="th"/>
<rect x="430" y="1385" width="28" height="55"/><rect x="424" y="1383" width="6" height="59"/>
<rect x="490" y="1363" width="6" height="82"/><rect x="496" y="1365" width="126" height="78"/>
<rect x="622" y="1363" width="6" height="82"/>
<rect x="628" y="1362" width="37" height="88"/>
<circle cx="474" cy="1405" r="10"/><circle cx="655" cy="1405" r="9"/>
<rect x="410" y="1392" width="14" height="28"/>
<line x1="410" y1="1406" x2="424" y2="1406" class="th"/><line x1="410" y1="1392" x2="424" y2="1420" class="th"/><line x1="424" y1="1392" x2="410" y2="1420" class="th"/>
<rect x="368" y="1395" width="14" height="22"/>
<polygon points="382,1390 394,1390 396,1406 394,1422 382,1422 380,1406"/>
<rect x="396" y="1397" width="14" height="18"/>
<path d="M470,1464 L478,1464 L476,1472 L472,1472 Z"/><path d="M641,1450 L649,1450 L647,1458 L643,1458 Z"/>
<line x1="360" y1="1406" x2="675" y2="1406" class="cl"/>
<line x1="474" y1="1355" x2="474" y2="1465" class="cl"/>
<line x1="367" y1="1285" x2="367" y2="1400" class="th"/><line x1="663" y1="1285" x2="663" y2="1362" class="th"/>
<line x1="367" y1="1290" x2="663" y2="1290" class="th" marker-start="url(#a)" marker-end="url(#a)"/>
<line x1="367" y1="1305" x2="458" y2="1305" class="th" marker-start="url(#a)" marker-end="url(#a)"/>
<line x1="458" y1="1305" x2="663" y2="1305" class="th" marker-start="url(#a)" marker-end="url(#a)"/>
<line x1="367" y1="1320" x2="430" y2="1320" class="th" marker-start="url(#a)" marker-end="url(#a)"/>
<line x1="458" y1="1320" x2="490" y2="1320" class="th" marker-start="url(#a)" marker-end="url(#a)"/>
<line x1="490" y1="1320" x2="663" y2="1320" class="th" marker-start="url(#a)" marker-end="url(#a)"/>
<line x1="367" y1="1336" x2="400" y2="1336" class="th" marker-start="url(#a)" marker-end="url(#a)"/>
<line x1="458" y1="1300" x2="458" y2="1352" class="th"/><line x1="490" y1="1315" x2="490" y2="1362" class="th"/><line x1="430" y1="1315" x2="430" y2="1385" class="th"/><line x1="400" y1="1330" x2="400" y2="1392" class="th"/><line x1="452" y1="1330" x2="452" y2="1352" class="th"/><line x1="650" y1="1330" x2="650" y2="1362" class="th"/>
<line x1="380" y1="1360" x2="402" y2="1360" class="th"/><line x1="386" y1="1360" x2="386" y2="1390" class="th"/><line x1="394" y1="1360" x2="394" y2="1390" class="th"/>
<line x1="340" y1="1380" x2="424" y2="1380" class="th"/><line x1="340" y1="1443" x2="424" y2="1443" class="th"/>
<polyline points="290,1455 358,1455 375,1422" class="th"/>
<polyline points="650,1398 670,1353 733,1353" class="th"/>
<polyline points="540,1476 620,1476 643,1458" class="th"/>
<line x1="665" y1="1362" x2="690" y2="1362" class="th"/><line x1="665" y1="1450" x2="690" y2="1450" class="th"/>
</g>
<g class="lb"><text x="486" y="1286" class="ls">146.6+Strolce</text>
<text x="404" y="1302">52</text><text x="522" y="1303" class="ls">94.6+Strolce</text>
<text x="391" y="1318">32</text><text x="437" y="1318">20</text><text x="466" y="1318">22</text><text x="534" y="1318" class="ls">72.6+Strolce</text>
<text x="378" y="1334">24</text><text x="440" y="1334">3</text><text x="459" y="1334">12</text><text x="646" y="1334">12</text>
<text x="385" y="1358" class="ls">8</text>
<text x="289" y="1452">M14 x 1.5</text>
<text x="672" y="1350" style="font-size:13px">2–PT1/4</text>
<text x="540" y="1474" class="ls">2-Buffer screw</text>
<text transform="translate(342,1430) rotate(-90)">ϕ34</text>
<text transform="translate(342,1400) rotate(-90)" style="font-size:7px">-0.05</text>
<text transform="translate(684,1412) rotate(-90)">ϕU</text></g>

<!-- K: small right bottom -->
<g class="d">
<rect x="893" y="1272" width="40" height="123"/>
<line x1="905" y1="1272" x2="905" y2="1395" class="dh"/><line x1="920" y1="1272" x2="920" y2="1395" class="dh"/>
<rect x="866" y="1300" width="27" height="65"/><rect x="862" y="1303" width="4" height="60"/>
<rect x="933" y="1288" width="6" height="84"/><rect x="939" y="1291" width="130" height="78"/>
<rect x="1069" y="1288" width="6" height="84"/>
<rect x="1075" y="1288" width="40" height="84"/>
<circle cx="913" cy="1330" r="9"/><circle cx="913" cy="1330" r="5"/>
<circle cx="1095" cy="1330" r="7"/><circle cx="1095" cy="1330" r="3"/>
<rect x="847" y="1318" width="14" height="24"/>
<line x1="847" y1="1318" x2="861" y2="1342" class="th"/><line x1="861" y1="1318" x2="847" y2="1342" class="th"/>
<rect x="825" y="1322" width="22" height="16"/>
<polygon points="812,1316 825,1316 828,1330 825,1345 812,1345 808,1330"/>
<line x1="800" y1="1330" x2="1125" y2="1330" class="cl"/>
<line x1="913" y1="1268" x2="913" y2="1412" class="th"/>
<line x1="858" y1="1280" x2="858" y2="1318" class="th"/>
<polyline points="796,1299 812,1299 820,1316" class="th"/>
<polyline points="805,1387 840,1387 855,1342" class="th"/>
<line x1="905" y1="1395" x2="905" y2="1410" class="th"/><line x1="920" y1="1395" x2="920" y2="1410" class="th"/>
</g>
<g class="lb"><text x="798" y="1296">19</text><text x="810" y="1384">14</text>
<text x="768" y="1398" style="font-size:11.5px">4 surface painting</text><text x="906" y="1408" class="ls">10</text>
<text transform="translate(855,1302) rotate(-90)">ϕ16</text></g>
</svg>
</body></html>
